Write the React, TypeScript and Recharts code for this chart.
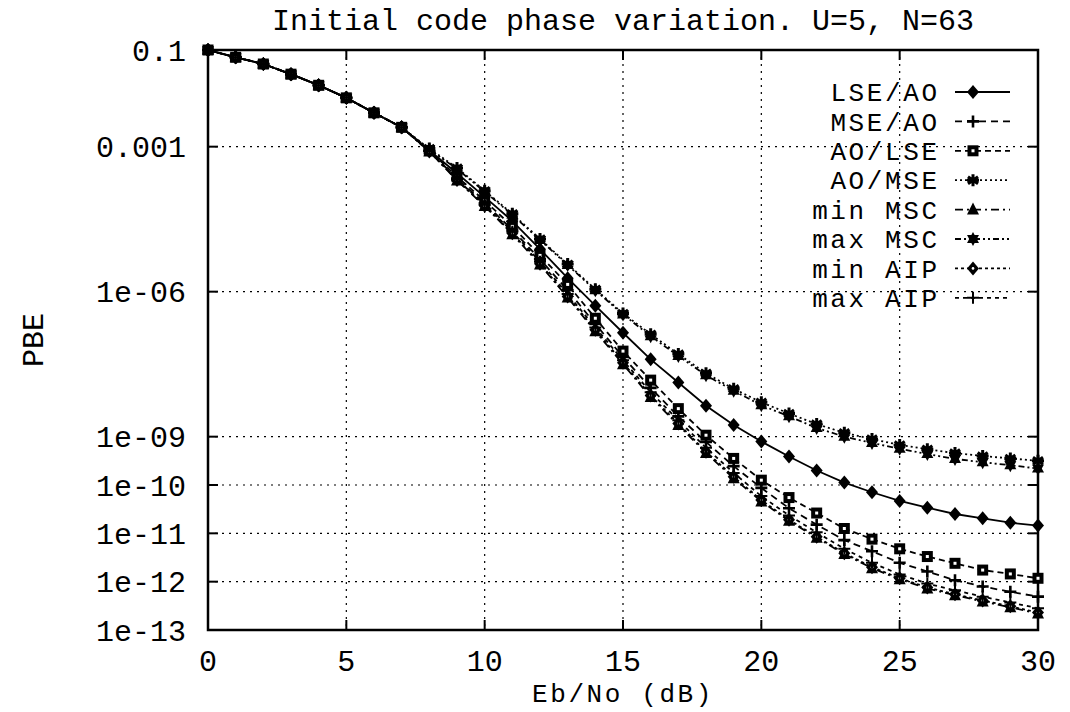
import React from "react";
import { LineChart, Line, XAxis, YAxis, CartesianGrid, ReferenceArea } from "recharts";

const W = 1070;
const H = 712;
const MARGIN = { top: 50, right: 32, bottom: 0, left: 0 };
const Y_AXIS_W = 208;
const X_AXIS_H = 82;
const PLOT_LEFT = MARGIN.left + Y_AXIS_W;
const PLOT_RIGHT = W - MARGIN.right;
const PLOT_TOP = MARGIN.top;
const PLOT_BOTTOM = H - MARGIN.bottom - X_AXIS_H;
const FONT = "'Liberation Mono', 'Courier New', monospace";
const FS = 30;
// smaller glyphs with extra tracking keep the same width as FS but a shorter box
const FS_SMALL = 26;
const TRACK = 2.6;

// Eb/No in dB
const EBNO = [0, 1, 2, 3, 4, 5, 6, 7, 8, 9, 10, 11, 12, 13, 14, 15, 16, 17, 18, 19, 20, 21, 22, 23, 24, 25, 26, 27, 28, 29, 30];
const X_TICKS = [0, 5, 10, 15, 20, 25, 30];

// PBE is stored as log10(PBE)
const Y_TICKS = [-1, -3, -6, -9, -10, -11, -12, -13];
const Y_TICK_LABELS = ["0.1", "0.001", "1e-06", "1e-09", "1e-10", "1e-11", "1e-12", "1e-13"];

const LSE_AO = [-1.0, -1.15, -1.29, -1.5, -1.73, -1.99, -2.3, -2.6, -3.08, -3.55, -4.04, -4.54, -5.12, -5.72, -6.29, -6.85, -7.4, -7.88, -8.36, -8.76, -9.1, -9.41, -9.7, -9.95, -10.15, -10.33, -10.47, -10.6, -10.69, -10.78, -10.84];
const MSE_AO = [-1.0, -1.15, -1.29, -1.5, -1.73, -1.99, -2.3, -2.6, -3.09, -3.66, -4.17, -4.72, -5.33, -5.97, -6.67, -7.35, -7.99, -8.58, -9.11, -9.61, -10.06, -10.48, -10.82, -11.14, -11.37, -11.61, -11.79, -11.97, -12.1, -12.21, -12.31];
const AO_LSE = [-1.0, -1.15, -1.29, -1.5, -1.73, -1.99, -2.3, -2.6, -3.08, -3.62, -4.12, -4.65, -5.25, -5.85, -6.55, -7.23, -7.83, -8.42, -8.97, -9.45, -9.9, -10.26, -10.58, -10.9, -11.12, -11.32, -11.48, -11.62, -11.76, -11.84, -11.93];
const AO_MSE = [-1.0, -1.15, -1.29, -1.5, -1.73, -1.99, -2.3, -2.6, -3.04, -3.44, -3.91, -4.39, -4.91, -5.43, -5.95, -6.45, -6.88, -7.29, -7.69, -8.01, -8.29, -8.52, -8.74, -8.92, -9.05, -9.17, -9.26, -9.34, -9.4, -9.45, -9.5];
const MIN_MSC = [-1.0, -1.15, -1.29, -1.5, -1.73, -1.99, -2.3, -2.6, -3.1, -3.7, -4.23, -4.81, -5.44, -6.12, -6.82, -7.5, -8.18, -8.76, -9.34, -9.86, -10.34, -10.74, -11.09, -11.43, -11.72, -11.95, -12.14, -12.28, -12.41, -12.53, -12.66];
const MAX_MSC = [-1.0, -1.15, -1.29, -1.5, -1.73, -1.99, -2.3, -2.6, -3.06, -3.46, -3.93, -4.41, -4.93, -5.45, -5.97, -6.47, -6.92, -7.33, -7.73, -8.05, -8.35, -8.58, -8.82, -9.0, -9.13, -9.25, -9.36, -9.46, -9.53, -9.59, -9.66];
const MIN_AIP = [-1.0, -1.15, -1.29, -1.5, -1.73, -1.99, -2.3, -2.6, -3.1, -3.69, -4.22, -4.79, -5.42, -6.1, -6.79, -7.47, -8.15, -8.73, -9.31, -9.83, -10.31, -10.72, -11.07, -11.41, -11.7, -11.93, -12.12, -12.26, -12.39, -12.51, -12.64];
const MAX_AIP = [-1.0, -1.15, -1.29, -1.5, -1.73, -1.99, -2.3, -2.6, -3.09, -3.68, -4.2, -4.76, -5.38, -6.05, -6.74, -7.42, -8.08, -8.66, -9.23, -9.75, -10.23, -10.63, -10.98, -11.32, -11.61, -11.85, -12.04, -12.18, -12.31, -12.43, -12.55];

type Shape = "diamond" | "plus" | "square" | "asterisk" | "triangle" | "star" | "diamondDot" | "plusThin";

const SERIES: { key: string; name: string; values: number[]; shape: Shape; dash?: string }[] = [
  { key: "lseAo", name: "LSE/AO", values: LSE_AO, shape: "diamond" },
  { key: "mseAo", name: "MSE/AO", values: MSE_AO, shape: "plus", dash: "7 5" },
  { key: "aoLse", name: "AO/LSE", values: AO_LSE, shape: "square", dash: "6 4" },
  { key: "aoMse", name: "AO/MSE", values: AO_MSE, shape: "asterisk", dash: "2 3" },
  { key: "minMsc", name: "min MSC", values: MIN_MSC, shape: "triangle", dash: "8 4 2 4" },
  { key: "maxMsc", name: "max MSC", values: MAX_MSC, shape: "star", dash: "6 3 2 3 2 3" },
  { key: "minAip", name: "min AIP", values: MIN_AIP, shape: "diamondDot", dash: "3 3" },
  { key: "maxAip", name: "max AIP", values: MAX_AIP, shape: "plusThin", dash: "4 4" },
];

const data = EBNO.map((x, i) => {
  const row: Record<string, number> = { x };
  SERIES.forEach((s) => {
    row[s.key] = s.values[i];
  });
  return row;
});

function Marker({ shape, cx, cy }: { shape: Shape; cx: number; cy: number }) {
  const s = 6;
  switch (shape) {
    case "diamond":
      return <polygon points={`${cx},${cy - s - 1} ${cx + s},${cy} ${cx},${cy + s + 1} ${cx - s},${cy}`} fill="#000" />;
    case "diamondDot":
      return (
        <g>
          <polygon points={`${cx},${cy - s - 1} ${cx + s},${cy} ${cx},${cy + s + 1} ${cx - s},${cy}`} fill="#000" />
          <circle cx={cx} cy={cy} r={1.3} fill="#fff" />
        </g>
      );
    case "plus":
      return <path d={`M${cx - s} ${cy}H${cx + s}M${cx} ${cy - s}V${cy + s}`} stroke="#000" strokeWidth={2.6} />;
    case "plusThin":
      return <path d={`M${cx - s} ${cy}H${cx + s}M${cx} ${cy - s}V${cy + s}`} stroke="#000" strokeWidth={2} />;
    case "square":
      return (
        <g>
          <rect x={cx - 5.5} y={cy - 5.5} width={11} height={11} fill="#000" />
          <rect x={cx - 1.5} y={cy - 1.5} width={3} height={3} fill="#fff" />
        </g>
      );
    case "asterisk":
      return (
        <path
          d={`M${cx} ${cy - s}V${cy + s}M${cx - 5} ${cy - 3.5}L${cx + 5} ${cy + 3.5}M${cx - 5} ${cy + 3.5}L${cx + 5} ${cy - 3.5}M${cx - s} ${cy}H${cx + s}`}
          stroke="#000"
          strokeWidth={3}
        />
      );
    case "triangle":
      return <polygon points={`${cx},${cy - s - 1} ${cx + s},${cy + s - 1} ${cx - s},${cy + s - 1}`} fill="#000" />;
    case "star":
      return (
        <g fill="#000">
          <polygon points={`${cx},${cy - 7} ${cx + 6},${cy + 4} ${cx - 6},${cy + 4}`} />
          <polygon points={`${cx},${cy + 7} ${cx + 6},${cy - 4} ${cx - 6},${cy - 4}`} />
        </g>
      );
    default:
      return null;
  }
}

const YTick = (props: any) => {
  const { y, payload } = props;
  const label = Y_TICK_LABELS[Y_TICKS.indexOf(payload.value)];
  return (
    <g>
      <text x={PLOT_LEFT - 22} y={y} dy="0.35em" textAnchor="end" fontFamily={FONT} fontSize={FS} fill="#000">
        {label}
      </text>
      <line x1={PLOT_LEFT} x2={PLOT_LEFT + 10} y1={y} y2={y} stroke="#000" strokeWidth={2} />
      <line x1={PLOT_RIGHT - 10} x2={PLOT_RIGHT} y1={y} y2={y} stroke="#000" strokeWidth={2} />
    </g>
  );
};

const XTick = (props: any) => {
  const { x, payload } = props;
  return (
    <g>
      <text x={x} y={PLOT_BOTTOM + 30} dy="0.35em" textAnchor="middle" fontFamily={FONT} fontSize={FS} fill="#000">
        {payload.value}
      </text>
      <line x1={x} x2={x} y1={PLOT_BOTTOM} y2={PLOT_BOTTOM - 10} stroke="#000" strokeWidth={2} />
      <line x1={x} x2={x} y1={PLOT_TOP} y2={PLOT_TOP + 10} stroke="#000" strokeWidth={2} />
    </g>
  );
};

const LEGEND_TOP = 92;
const LEGEND_STEP = 29.4;
const LEGEND_TEXT_RIGHT = 937;
const LEGEND_LINE_X1 = 955;
const LEGEND_LINE_X2 = 1010;
const LEGEND_MARK_X = 973;

export default function App() {
  return (
    <div style={{ position: "absolute", left: 0, top: 0, width: W, height: H, background: "#fff", fontFamily: FONT }}>
      <LineChart width={W} height={H} data={data} margin={MARGIN}>
        <CartesianGrid stroke="#000" strokeDasharray="2 5" strokeWidth={1.2} />
        <XAxis
          dataKey="x"
          type="number"
          domain={[0, 30]}
          ticks={X_TICKS}
          interval={0}
          height={X_AXIS_H}
          axisLine={false}
          tickLine={false}
          tick={<XTick />}
        />
        <YAxis
          type="number"
          domain={[-13, -1]}
          ticks={Y_TICKS}
          interval={0}
          width={Y_AXIS_W}
          axisLine={false}
          tickLine={false}
          tick={<YTick />}
        />
        {SERIES.map((s) => (
          <Line
            key={s.key}
            dataKey={s.key}
            name={s.name}
            type="linear"
            stroke="#000"
            strokeWidth={1.8}
            strokeDasharray={s.dash}
            isAnimationActive={false}
            dot={(p: any) => <Marker key={`${s.key}-${p.index}`} shape={s.shape} cx={p.cx} cy={p.cy} />}
            activeDot={false}
          />
        ))}
        <ReferenceArea x1={0} x2={30} y1={-13} y2={-1} fill="none" fillOpacity={0} stroke="#000" strokeWidth={2.5} />
      </LineChart>

      <svg width={W} height={H} style={{ position: "absolute", left: 0, top: 0, pointerEvents: "none" }}>
        {SERIES.map((s, i) => {
          const y = LEGEND_TOP + i * LEGEND_STEP;
          return (
            <g key={s.key}>
              <text
                x={LEGEND_TEXT_RIGHT + TRACK}
                y={y}
                dy="0.35em"
                textAnchor="end"
                fontFamily={FONT}
                fontSize={FS_SMALL}
                letterSpacing={TRACK}
                fill="#000"
              >
                {s.name}
              </text>
              <line x1={LEGEND_LINE_X1} x2={LEGEND_LINE_X2} y1={y} y2={y} stroke="#000" strokeWidth={1.8} strokeDasharray={s.dash} />
              <Marker shape={s.shape} cx={LEGEND_MARK_X} cy={y} />
            </g>
          );
        })}
      </svg>

      <div
        style={{
          position: "absolute",
          left: PLOT_LEFT,
          width: PLOT_RIGHT - PLOT_LEFT,
          top: 7,
          lineHeight: "30px",
          fontSize: FS,
          textAlign: "center",
          whiteSpace: "nowrap",
        }}
      >
        Initial code phase variation. U=5, N=63
      </div>
      <div
        style={{
          position: "absolute",
          left: PLOT_LEFT,
          width: PLOT_RIGHT - PLOT_LEFT,
          top: 681,
          lineHeight: "28px",
          fontSize: FS_SMALL,
          letterSpacing: TRACK,
          textAlign: "center",
        }}
      >
        Eb/No (dB)
      </div>
      <div
        style={{
          position: "absolute",
          left: 35 - 50,
          top: (PLOT_TOP + PLOT_BOTTOM) / 2 - 15,
          width: 100,
          lineHeight: "30px",
          fontSize: FS,
          textAlign: "center",
          transform: "rotate(-90deg)",
        }}
      >
        PBE
      </div>
    </div>
  );
}
